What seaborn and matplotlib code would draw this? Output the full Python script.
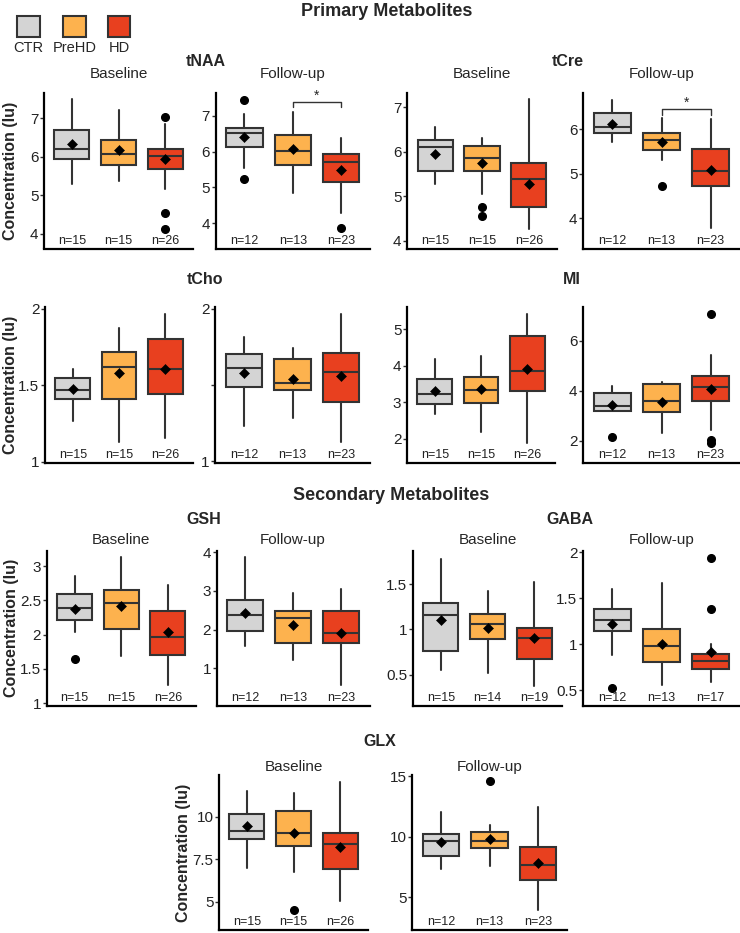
import matplotlib
matplotlib.use("Agg")
import matplotlib.pyplot as plt
import matplotlib.transforms as mtransforms
from matplotlib.patches import Rectangle
import pandas as pd
import seaborn as sns

# Group names and fill colours
groups = ["CTR", "PreHD", "HD"]
group_colors = ["#D4D4D4", "#FDB24E", "#E8401F"]

# Box summaries, one per panel (order: CTR, PreHD, HD)
# lo/hi = whisker ends, q1/med/q3 = box, mean = diamond, out = outliers, n = sample size
tnaa_base = {"lo": [5.30, 5.36, 5.16], "q1": [5.95, 5.79, 5.69], "med": [6.21, 6.08, 6.01],
             "q3": [6.69, 6.44, 6.20], "hi": [7.49, 7.21, 6.84], "mean": [6.34, 6.16, 5.93],
             "out": [[], [], [7.03, 4.55, 4.13]], "n": [15, 15, 26]}
tnaa_fu = {"lo": [5.54, 4.84, 4.29], "q1": [6.14, 5.63, 5.16], "med": [6.52, 6.02, 5.70],
           "q3": [6.66, 6.46, 5.94], "hi": [7.05, 7.12, 6.38], "mean": [6.40, 6.07, 5.49],
           "out": [[7.45, 5.23], [], [3.85]], "n": [12, 13, 23]}
tcre_base = {"lo": [5.28, 5.06, 4.27], "q1": [5.58, 5.58, 4.77], "med": [6.11, 5.87, 5.40],
             "q3": [6.26, 6.13, 5.74], "hi": [6.56, 6.32, 7.18], "mean": [5.95, 5.74, 5.27],
             "out": [[], [4.77, 4.57], []], "n": [15, 15, 26]}
tcre_fu = {"lo": [5.70, 5.31, 3.77], "q1": [5.92, 5.53, 4.72], "med": [6.04, 5.75, 5.07],
           "q3": [6.37, 5.92, 5.55], "hi": [6.65, 6.26, 6.22], "mean": [6.11, 5.72, 5.08],
           "out": [[], [4.72], []], "n": [12, 13, 23]}
tcho_base = {"lo": [1.267, 1.127, 1.159], "q1": [1.409, 1.409, 1.441], "med": [1.472, 1.620, 1.604],
             "q3": [1.544, 1.717, 1.800], "hi": [1.609, 1.874, 1.967], "mean": [1.475, 1.580, 1.608],
             "out": [[], [], []], "n": [15, 15, 26]}
tcho_fu = {"lo": [1.230, 1.285, 1.125], "q1": [1.490, 1.466, 1.390], "med": [1.610, 1.514, 1.584],
           "q3": [1.700, 1.667, 1.711], "hi": [1.816, 1.744, 1.967], "mean": [1.580, 1.540, 1.558],
           "out": [[], [], []], "n": [12, 13, 23]}
mi_base = {"lo": [2.67, 2.18, 1.89], "q1": [2.96, 2.98, 3.30], "med": [3.22, 3.33, 3.85],
           "q3": [3.63, 3.69, 4.82], "hi": [4.17, 4.26, 5.41], "mean": [3.30, 3.35, 3.91],
           "out": [[], [], []], "n": [15, 15, 26]}
mi_fu = {"lo": [3.18, 2.31, 2.44], "q1": [3.20, 3.13, 3.59], "med": [3.38, 3.60, 4.14],
         "q3": [3.90, 4.27, 4.58], "hi": [4.20, 4.36, 5.43], "mean": [3.44, 3.56, 4.07],
         "out": [[2.16], [], [7.07, 2.04, 1.91]], "n": [12, 13, 23]}
gsh_base = {"lo": [2.04, 1.69, 1.26], "q1": [2.22, 2.09, 1.71], "med": [2.39, 2.47, 1.96],
            "q3": [2.60, 2.65, 2.35], "hi": [2.86, 3.14, 2.72], "mean": [2.37, 2.42, 2.04],
            "out": [[1.65], [], []], "n": [15, 15, 26]}
gsh_fu = {"lo": [1.58, 1.21, 0.56], "q1": [1.95, 1.65, 1.65], "med": [2.38, 2.30, 1.92],
          "q3": [2.77, 2.47, 2.49], "hi": [3.88, 2.95, 3.05], "mean": [2.44, 2.12, 1.92],
          "out": [[], [], []], "n": [12, 13, 23]}
gaba_base = {"lo": [0.555, 0.52, 0.38], "q1": [0.756, 0.896, 0.67], "med": [1.16, 1.06, 0.90],
             "q3": [1.29, 1.17, 1.02], "hi": [1.78, 1.42, 1.52], "mean": [1.10, 1.02, 0.91],
             "out": [[], [], []], "n": [15, 14, 19]}
gaba_fu = {"lo": [0.89, 0.56, 0.595], "q1": [1.15, 0.81, 0.73], "med": [1.27, 0.98, 0.82],
           "q3": [1.38, 1.17, 0.90], "hi": [1.60, 1.67, 1.00], "mean": [1.22, 1.00, 0.915],
           "out": [[0.53], [], [1.94, 1.38]], "n": [12, 13, 17]}
glx_base = {"lo": [6.96, 6.76, 5.06], "q1": [8.69, 8.29, 6.94], "med": [9.18, 9.06, 8.38],
            "q3": [10.14, 10.35, 9.06], "hi": [11.53, 11.41, 12.06], "mean": [9.45, 9.02, 8.24],
            "out": [[], [4.51], []], "n": [15, 15, 26]}
glx_fu = {"lo": [7.31, 7.58, 3.92], "q1": [8.37, 9.06, 6.42], "med": [9.67, 9.67, 7.67],
          "q3": [10.22, 10.36, 9.11], "hi": [12.03, 10.97, 12.45], "mean": [9.58, 9.81, 7.78],
          "out": [[], [14.62], []], "n": [12, 13, 23]}

W, H = 740, 933
sns.set_style("ticks")
plt.rcParams["font.family"] = ["Liberation Sans", "DejaVu Sans"]
fig = plt.figure(figsize=(W / 100, H / 100), dpi=100)

EDGE = "#333333"


def px_rect(x0, x1, ytop, ybot):
    return [x0 / W, 1 - ybot / H, (x1 - x0) / W, (ybot - ytop) / H]


def ftext(x, y, s, **kw):
    fig.text(x / W, 1 - y / H, s, ha="center", va="center", **kw)


def draw_panel(rect, d, ylim, yticks, ticklabels=None, ylabel_x=None, bracket=None):
    ax = fig.add_axes(px_rect(*rect))
    stats = [dict(whislo=d["lo"][i], q1=d["q1"][i], med=d["med"][i], q3=d["q3"][i],
                  whishi=d["hi"][i], fliers=d["out"][i]) for i in range(3)]
    bp = ax.bxp(stats, positions=[0, 1, 2], widths=0.75, patch_artist=True, showcaps=False,
                boxprops=dict(edgecolor=EDGE, linewidth=1.5),
                medianprops=dict(color=EDGE, linewidth=1.5),
                whiskerprops=dict(color=EDGE, linewidth=1.5),
                flierprops=dict(marker="o", markerfacecolor="black", markeredgecolor="black",
                                markersize=5.5))
    for patch, c in zip(bp["boxes"], group_colors):
        patch.set_facecolor(c)
    means = pd.DataFrame({"x": [0, 1, 2], "mean": d["mean"]})
    sns.scatterplot(data=means, x="x", y="mean", marker="D", color="black", s=26,
                    edgecolor="black", ax=ax, zorder=5, legend=False)
    ax.set_xlim(-0.6, 2.6)
    ax.set_ylim(*ylim)
    ax.set_yticks(yticks)
    ax.set_yticklabels(ticklabels if ticklabels is not None else [f"{v:g}" for v in yticks])
    ax.set_xticks([])
    ax.set_xlabel("")
    ax.set_ylabel("")
    sns.despine(ax=ax)
    for side in ["left", "bottom"]:
        ax.spines[side].set_linewidth(1.6)
        ax.spines[side].set_color("black")
    ax.tick_params(axis="y", length=3, width=1, color=EDGE, labelsize=11, pad=1,
                   labelcolor="#222222")
    trans = mtransforms.blended_transform_factory(ax.transData, ax.transAxes)
    for i, n in enumerate(d["n"]):
        ax.text(i, 0.012, f"n={n}", transform=trans, ha="center", va="bottom",
                fontsize=9, color="#222222")
    if ylabel_x is not None:
        ax.set_ylabel("Concentration (Iu)", fontsize=11.5, fontweight="bold", va="center")
        ax.yaxis.set_label_coords((ylabel_x - rect[0]) / (rect[1] - rect[0]), 0.5)
    if bracket is not None:
        ytop, ydrop, ystar = bracket
        ax.plot([1, 1, 2, 2], [ydrop, ytop, ytop, ydrop], color=EDGE, lw=1)
        ax.text(1.5, ystar, "*", ha="center", va="center", fontsize=10)
    return ax


# Row 1
draw_panel((44, 193, 93, 248.5), tnaa_base, (3.62, 7.65), [4, 5, 6, 7], ylabel_x=11)
draw_panel((215.5, 370, 93, 248.5), tnaa_fu, (3.29, 7.64), [4, 5, 6, 7], bracket=(7.40, 7.26, 7.55))
draw_panel((407, 557, 93, 248.5), tcre_base, (3.83, 7.32), [4, 5, 6, 7])
draw_panel((583, 740, 93, 248.5), tcre_fu, (3.32, 6.81), [4, 5, 6], bracket=(6.46, 6.31, 6.60))
# Row 2
draw_panel((45, 193, 307, 463), tcho_base, (0.993, 2.01), [1, 1.5, 2], ylabel_x=11)
draw_panel((215, 370, 307, 463), tcho_fu, (0.99, 2.01), [1, 1.5, 2], ticklabels=["1", "", "2"])
draw_panel((407, 555, 307, 463), mi_base, (1.33, 5.61), [2, 3, 4, 5])
draw_panel((583, 740, 307, 463), mi_fu, (1.10, 7.34), [2, 4, 6])
# Row 3
draw_panel((46.5, 196, 550.5, 705.5), gsh_base, (0.966, 3.23), [1, 1.5, 2, 2.5, 3], ylabel_x=11)
draw_panel((216.5, 370, 550.5, 705.5), gsh_fu, (0.03, 4.05), [1, 2, 3, 4])
draw_panel((413, 562, 550.5, 705.5), gaba_base, (0.16, 1.87), [0.5, 1, 1.5])
draw_panel((583, 740, 550.5, 705.5), gaba_fu, (0.336, 2.02), [0.5, 1, 1.5, 2])
# Row 4
draw_panel((219, 368, 775, 930), glx_base, (3.34, 12.45), [5, 7.5, 10], ylabel_x=184)
draw_panel((412, 567, 775, 930), glx_fu, (2.27, 15.1), [5, 10, 15])

# Headings
ftext(387, 11, "Primary Metabolites", fontsize=13, fontweight="bold")
ftext(206, 61, "tNAA", fontsize=11.5, fontweight="bold")
ftext(568, 61, "tCre", fontsize=11.5, fontweight="bold")
ftext(205, 280, "tCho", fontsize=11.5, fontweight="bold")
ftext(572, 280, "MI", fontsize=11.5, fontweight="bold")
ftext(391, 495, "Secondary Metabolites", fontsize=13, fontweight="bold")
ftext(204, 520, "GSH", fontsize=11.5, fontweight="bold")
ftext(570, 520, "GABA", fontsize=11.5, fontweight="bold")
ftext(380, 742, "GLX", fontsize=11.5, fontweight="bold")

for (xb, xf), yy in [((118.5, 293), 74), ((482, 661.5), 74), ((121, 293), 540),
                     ((487.5, 661.5), 540), ((293.5, 489.5), 767)]:
    ftext(xb, yy, "Baseline", fontsize=11)
    ftext(xf, yy, "Follow-up", fontsize=11)

# Legend: coloured squares with labels underneath
for (x0, x1), lab, c in zip([(17, 40), (63, 86), (108, 130)], groups, group_colors):
    fig.add_artist(Rectangle((x0 / W, 1 - 37 / H), (x1 - x0) / W, 21 / H,
                             transform=fig.transFigure, facecolor=c, edgecolor=EDGE, lw=1.5))
    ftext((x0 + x1) / 2, 48, lab, fontsize=10.5)

fig.savefig("out.png", dpi=100)
